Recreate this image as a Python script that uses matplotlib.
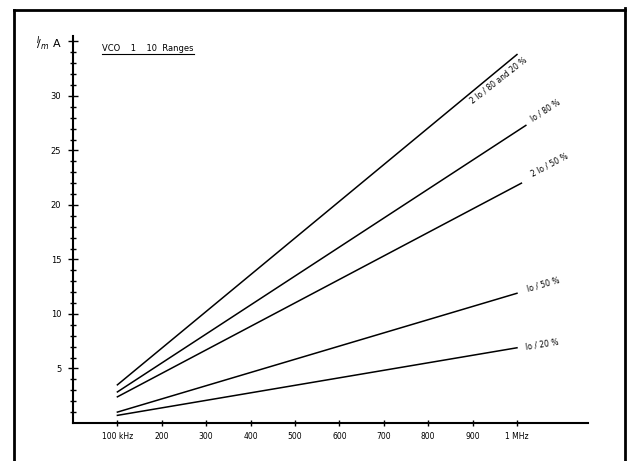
import matplotlib
matplotlib.use('Agg')
import matplotlib.pyplot as plt
from matplotlib.lines import Line2D

# data (frequency in kHz, current in mA)
labels = ['2 Io / 80 and 20 %', 'Io / 80 %', '2 Io / 50 %', 'Io / 50 %', 'Io / 20 %']
f_start = [100, 100, 100, 100, 100]
f_end = [1000, 1020, 1010, 1000, 1000]
i_start = [3.5, 2.85, 2.4, 1.0, 0.7]
i_end = [33.8, 27.3, 22.0, 11.9, 6.9]

# where the line labels sit (data coords) and their slant
lab_x = [958, 1065, 1074, 1059, 1056]
lab_y = [31.4, 28.7, 23.7, 12.75, 7.2]
lab_rot = [38, 33, 28, 16, 9]

x_ticks = [100, 200, 300, 400, 500, 600, 700, 800, 900, 1000]
x_ticklabels = ['100 kHz', '200', '300', '400', '500', '600', '700', '800', '900', '1 MHz']
y_ticks = [5, 10, 15, 20, 25, 30, 35]
y_ticklabels = ['5', '10', '15', '20', '25', '30', r'$^{I}\!/_{m}$ A']

fig = plt.figure(figsize=(6.31, 4.61), dpi=100)
ax = fig.add_axes([73/631, 1 - 423/461, (588 - 73)/631, (423 - 36)/461])

for k in range(len(labels)):
    ax.plot([f_start[k], f_end[k]], [i_start[k], i_end[k]], color='black', lw=1.1)
    ax.text(lab_x[k], lab_y[k], labels[k], rotation=lab_rot[k], ha='center', va='center',
            rotation_mode='anchor', fontsize=5.5)

ax.set_xlim(0, 1160)
ax.set_ylim(0, 35.5)
for s in ['top', 'right']:
    ax.spines[s].set_visible(False)
ax.spines['left'].set_linewidth(1.5)
ax.spines['bottom'].set_linewidth(1.5)

ax.set_xticks(x_ticks)
ax.set_xticklabels(x_ticklabels, fontsize=5.5)
ax.set_yticks(y_ticks)
ax.set_yticklabels(y_ticklabels, fontsize=6)
ax.get_yticklabels()[-1].set_fontsize(8)
ax.set_yticks(range(1, 36), minor=True)
ax.tick_params(axis='y', which='major', direction='inout', length=7, width=1, pad=5)
ax.tick_params(axis='y', which='minor', direction='inout', length=4, width=1)
ax.tick_params(axis='x', which='major', direction='inout', length=5, width=1, pad=4)

# title, underlined
ax.text(66, 33.95, 'VCO    1    10  Ranges', fontsize=6, ha='left', va='bottom')
ax.plot([66, 272], [33.85, 33.85], color='black', lw=0.8, clip_on=False)

# outer drawing frame
fw = 631.0
fh = 461.0
fig.add_artist(Line2D([14/fw, 14/fw], [0, 1 - 10/fh], color='black', lw=2))
fig.add_artist(Line2D([14/fw, 625/fw], [1 - 10/fh, 1 - 10/fh], color='black', lw=2))
fig.add_artist(Line2D([625/fw, 625/fw], [0, 1 - 8/fh], color='black', lw=2))

fig.savefig('out.png', dpi=100)
